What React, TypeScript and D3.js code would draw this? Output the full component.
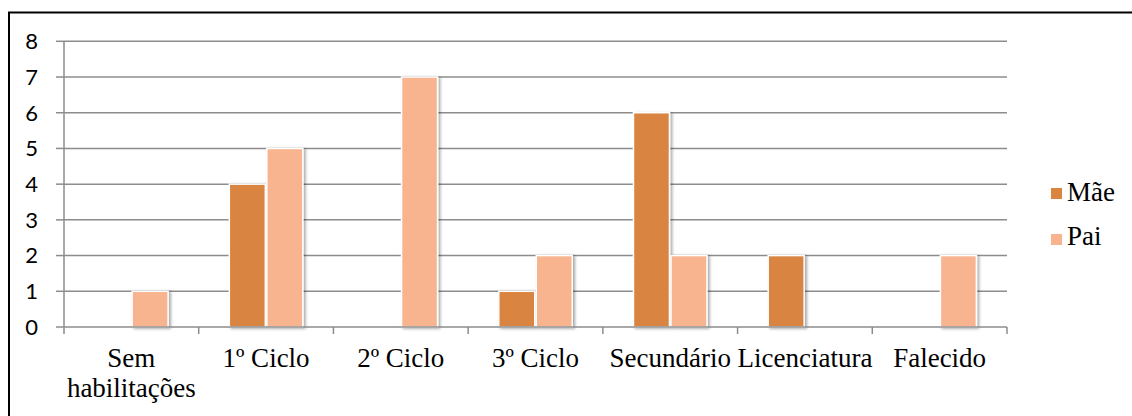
import React from "react";
import * as d3 from "d3";

const categories = ["Sem habilitações", "1º Ciclo", "2º Ciclo", "3º Ciclo", "Secundário", "Licenciatura", "Falecido"];
const seriesNames = ["Mãe", "Pai"];
const maeValues = [0, 4, 0, 1, 6, 2, 0];
const paiValues = [1, 5, 7, 2, 2, 0, 2];
const yTicks = [0, 1, 2, 3, 4, 5, 6, 7, 8];
const colors = ["#D9843F", "#F8B48E"];

const W = 1132;
const H = 416;
const plot = { left: 64, right: 1007, top: 41.3, bottom: 327 };

export default function App() {
  const x = d3.scaleBand<string>().domain(categories).range([plot.left, plot.right]).paddingInner(0).paddingOuter(0);
  const y = d3.scaleLinear().domain([0, 8]).range([plot.bottom, plot.top]);
  const bw = x.bandwidth();
  const barW = 37.5;
  const series = [maeValues, paiValues];
  const labelLines = (c: string) => (c === "Sem habilitações" ? ["Sem", "habilitações"] : [c]);

  return (
    <svg width={W} height={H} style={{ position: "absolute", left: 0, top: 0 }}>
      <defs>
        <filter id="sh" x="-30%" y="-10%" width="160%" height="130%">
          <feDropShadow dx="2" dy="1" stdDeviation="1.8" floodColor="#000" floodOpacity="0.35" />
        </filter>
      </defs>
      <rect x={0} y={0} width={W} height={H} fill="#fff" />
      <rect x={9} y={12.5} width={W + 20} height={H + 20} fill="none" stroke="#000" strokeWidth={2} />
      {yTicks.map((t) => (
        <g key={t}>
          {t > 0 && <line x1={plot.left} x2={plot.right} y1={y(t)} y2={y(t)} stroke="#8c8c8c" strokeWidth={1.5} />}
          <line x1={plot.left - 8} x2={plot.left} y1={y(t)} y2={y(t)} stroke="#8c8c8c" strokeWidth={1.5} />
          <text x={38} y={y(t)} dy="0.36em" textAnchor="end" fontFamily="Lato, 'Open Sans', sans-serif" fontSize={22} fill="#000">
            {t}
          </text>
        </g>
      ))}
      {series.map((vals, si) =>
        vals.map((v, i) => {
          if (v <= 0) return null;
          const cx = (x(categories[i]) as number) + bw / 2;
          const bx = cx - barW + si * barW;
          return (
            <rect
              key={`${si}-${i}`}
              x={bx + 0.75}
              y={y(v)}
              width={barW - 1.5}
              height={plot.bottom - y(v)}
              fill={colors[si]}
              stroke="#fff"
              strokeWidth={1.5}
              filter="url(#sh)"
            />
          );
        })
      )}
      <line x1={plot.left} x2={plot.left} y1={plot.top} y2={plot.bottom} stroke="#8c8c8c" strokeWidth={1.5} />
      <line x1={plot.left} x2={plot.right} y1={plot.bottom} y2={plot.bottom} stroke="#8c8c8c" strokeWidth={1.5} />
      {[...categories.map((c) => x(c) as number), plot.right].map((tx, i) => (
        <line key={i} x1={tx} x2={tx} y1={plot.bottom} y2={plot.bottom + 7} stroke="#8c8c8c" strokeWidth={1.5} />
      ))}
      {categories.map((c) => {
        const cx = (x(c) as number) + bw / 2;
        return (
          <text key={c} textAnchor="middle" fontFamily="'Liberation Serif', 'Times New Roman', serif" fontSize={27} fill="#000">
            {labelLines(c).map((l, li) => (
              <tspan key={li} x={cx} y={367 + li * 30}>
                {l}
              </tspan>
            ))}
          </text>
        );
      })}
      {seriesNames.map((n, i) => (
        <g key={n}>
          <rect x={1051} y={188 + i * 46} width={11} height={11} fill={colors[i]} />
          <text x={1067} y={201 + i * 44} fontFamily="'Liberation Serif', 'Times New Roman', serif" fontSize={27} fill="#000">
            {n}
          </text>
        </g>
      ))}
    </svg>
  );
}
